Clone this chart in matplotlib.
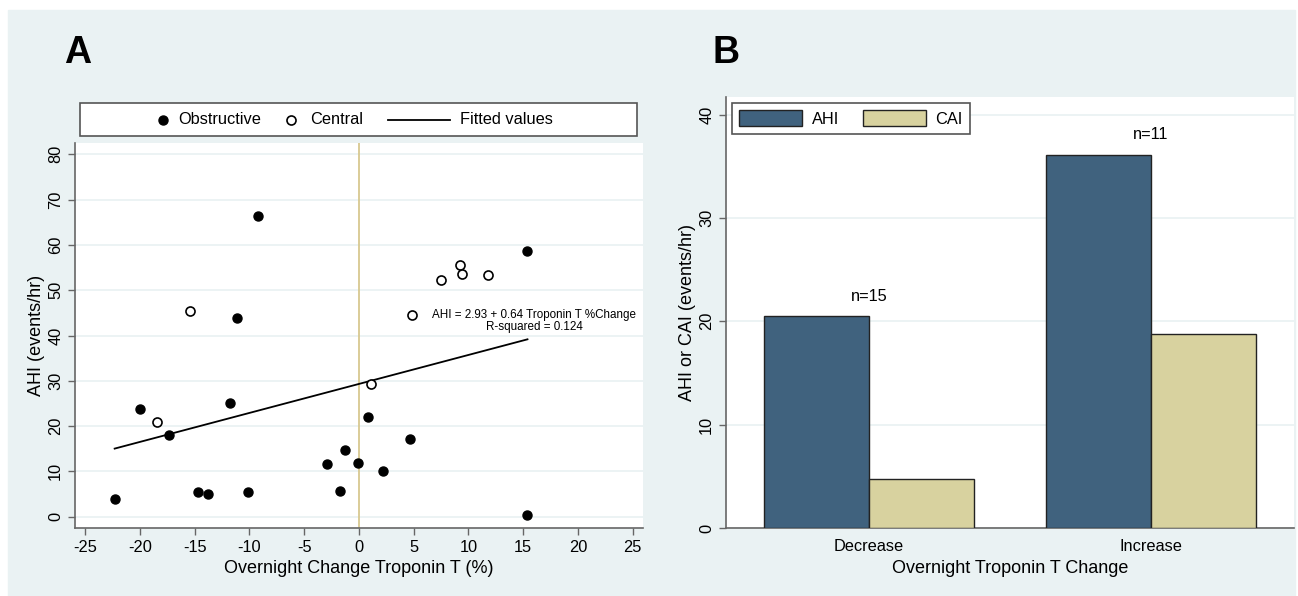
import numpy as np
import matplotlib
matplotlib.use("Agg")
import matplotlib.pyplot as plt
from matplotlib.patches import Rectangle
from matplotlib.lines import Line2D

plt.rcParams['font.family'] = ['Liberation Sans', 'DejaVu Sans']
plt.rcParams['axes.unicode_minus'] = False

# Panel A data: overnight change in troponin T (%) vs AHI (events/hr)
obstructive_x = [-22.3, -20.0, -17.3, -14.7, -13.8, -11.8, -11.1, -10.1, -2.9, -1.7,
                 -1.3, -0.1, 0.8, 2.2, 4.7, 15.4, -9.25, 15.4]
obstructive_y = [3.9, 23.8, 18.0, 5.5, 5.0, 25.1, 43.9, 5.4, 11.7, 5.6,
                 14.8, 11.9, 22.0, 10.1, 17.2, 0.4, 66.4, 58.7]
central_x = [-15.4, -18.4, 1.1, 4.9, 7.5, 9.2, 9.4, 11.8]
central_y = [45.5, 20.9, 29.4, 44.5, 52.2, 55.6, 53.5, 53.3]
fit_intercept = 29.3
fit_slope = 0.64
fit_text = "AHI = 2.93 + 0.64 Troponin T %Change\nR-squared = 0.124"

# Panel B data
groups = ["Decrease", "Increase"]
ahi_mean = [20.5, 36.1]
cai_mean = [4.75, 18.8]
group_n = [15, 11]

W, H = 1298, 596
BG = '#eaf2f3'
AXCOL = '#666666'
AHI_COL = '#40627e'
CAI_COL = '#d8d29f'


def px_rect(x0, y0, x1, y1):
    return [x0 / W, 1 - y1 / H, (x1 - x0) / W, (y1 - y0) / H]


def style_axes(ax):
    for s in ['top', 'right']:
        ax.spines[s].set_visible(False)
    for s in ['left', 'bottom']:
        ax.spines[s].set_color(AXCOL)
        ax.spines[s].set_linewidth(1.2)
    ax.tick_params(colors=AXCOL, labelcolor='black', length=5, width=1, labelsize=11.8)
    ax.yaxis.grid(True, color=BG, lw=1.3)
    ax.set_axisbelow(True)
    plt.setp(ax.get_yticklabels(), rotation=90, va='center')


fig = plt.figure(figsize=(W / 100, H / 100), dpi=100, facecolor='white')
fig.patches.append(Rectangle((8 / W, 0), (1295 - 8) / W, 1 - 10 / H,
                             transform=fig.transFigure, color=BG, zorder=-10))

# ---- Panel A ----
ax1 = fig.add_axes(px_rect(75, 143, 643, 528))
ax1.set_xlim(-25.92, 25.95)
ax1.set_ylim(-2.5, 82.5)
ax1.set_xticks(np.arange(-25, 26, 5))
ax1.set_yticks(np.arange(0, 81, 10))
style_axes(ax1)
ax1.axvline(0, color='#d8c890', lw=1.3, zorder=1)

ax1.plot(obstructive_x, obstructive_y, 'o', color='black', ms=6.5, zorder=3)
ax1.plot(central_x, central_y, 'o', mfc='white', mec='black', mew=1.2, ms=6.5, zorder=3)
all_x = np.array(obstructive_x + central_x)
fx = np.array([all_x.min(), all_x.max()])
ax1.plot(fx, fit_intercept + fit_slope * fx, color='black', lw=1.3, zorder=2)
ax1.text(16.0, 43.2, fit_text, ha='center', va='center', fontsize=8.4,
         multialignment='center', linespacing=1.0)

ax1.set_xlabel("Overnight Change Troponin T (%)", fontsize=13)
ax1.set_ylabel("AHI (events/hr)", fontsize=13)
ax1.xaxis.label.set_va('center')
ax1.yaxis.label.set_va('center')
ax1.xaxis.set_label_coords(0.5, -0.104)
ax1.yaxis.set_label_coords(-0.067, 0.5)

# legend box for panel A
fig.patches.append(Rectangle((80 / W, 1 - 136 / H), (637 - 80) / W, (136 - 103) / H,
                             transform=fig.transFigure, facecolor='white',
                             edgecolor='#555555', lw=1.2, zorder=5))
ly = 1 - 120 / H
fig.add_artist(Line2D([162.6 / W], [ly], marker='o', color='black', ms=6.5, zorder=6))
fig.text(178 / W, ly, "Obstructive", fontsize=11.8, va='center', zorder=6)
fig.add_artist(Line2D([291 / W], [ly], marker='o', mfc='white', mec='black', mew=1.2,
                      ms=6.5, zorder=6))
fig.text(310 / W, ly, "Central", fontsize=11.8, va='center', zorder=6)
fig.add_artist(Line2D([388.4 / W, 450.4 / W], [ly, ly], color='black', lw=1.3, zorder=6))
fig.text(460 / W, ly, "Fitted values", fontsize=11.8, va='center', zorder=6)

fig.text(78 / W, 1 - 53 / H, "A", fontsize=27, fontweight='bold', ha='center', va='center')
fig.text(726 / W, 1 - 53 / H, "B", fontsize=27, fontweight='bold', ha='center', va='center')

# ---- Panel B ----
ax2 = fig.add_axes(px_rect(726, 97, 1294, 528))
bw = 0.372
xpos = np.arange(len(groups))
ax2.bar(xpos - bw / 2, ahi_mean, bw, color=AHI_COL, edgecolor='#222222', lw=1, label='AHI', zorder=3)
ax2.bar(xpos + bw / 2, cai_mean, bw, color=CAI_COL, edgecolor='#222222', lw=1, label='CAI', zorder=3)
ax2.set_xlim(-0.507, 1.507)
ax2.set_ylim(0, 41.7)
ax2.set_yticks(np.arange(0, 41, 10))
ax2.set_xticks(xpos)
ax2.set_xticklabels(groups)
style_axes(ax2)
ax2.tick_params(axis='x', length=0, pad=8)
for i, n in enumerate(group_n):
    ax2.annotate(f"n={n}", xy=(xpos[i], ahi_mean[i]), xytext=(0, 9),
                 textcoords='offset points', ha='center', va='bottom', fontsize=11.8)
ax2.set_xlabel("Overnight Troponin T Change", fontsize=13)
ax2.set_ylabel("AHI or CAI (events/hr)", fontsize=13)
ax2.xaxis.label.set_va('center')
ax2.yaxis.label.set_va('center')
ax2.xaxis.set_label_coords(0.5, -0.095)
ax2.yaxis.set_label_coords(-0.067, 0.5)

leg = ax2.legend(loc='upper left', bbox_to_anchor=(732 / W, 1 - 103 / H),
                 bbox_transform=fig.transFigure, borderaxespad=0, ncol=2,
                 fontsize=11.8, handlelength=3.8, handleheight=1.05,
                 handletextpad=0.6, columnspacing=1.5, borderpad=0.45,
                 fancybox=False, framealpha=1)
leg.get_frame().set_edgecolor('#555555')
leg.get_frame().set_linewidth(1.2)

fig.savefig("out.png", dpi=100)
